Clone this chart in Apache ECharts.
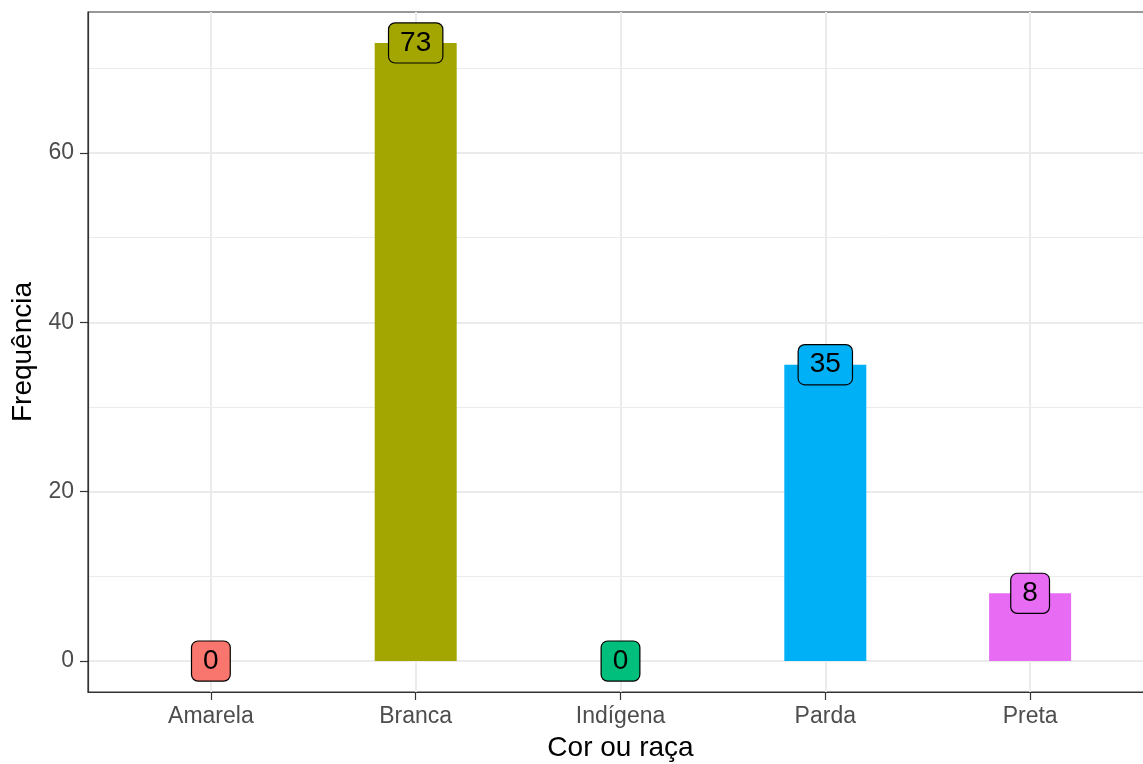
<!DOCTYPE html>
<html>
<head>
<meta charset="utf-8">
<script src="https://cdn.jsdelivr.net/npm/echarts@6/dist/echarts.min.js"></script>
<style>html,body{margin:0;padding:0;background:#fff;overflow:hidden}#c{width:1170px;height:764px}</style>
</head>
<body>
<div id="c"></div>
<script>
const categories = ['Amarela', 'Branca', 'Indígena', 'Parda', 'Preta'];
const values = [0, 73, 0, 35, 8];
const colors = ['#F8766D', '#A3A500', '#00BF7D', '#00B0F6', '#E76BF3'];
const yMajorTicks = [0, 20, 40, 60];
const yMinorTicks = [10, 30, 50, 70];

const xIdx = categories.map((_, i) => i);
const yMax = Math.max(...values);
const pad = yMax * 0.05;
const FONT = '"Liberation Sans", Arial, sans-serif';

const chart = echarts.init(document.getElementById('c'), null, {renderer: 'canvas'});
chart.setOption({
  animation: false,
  backgroundColor: '#ffffff',
  grid: {left: 88, top: 12, right: 17, bottom: 72, outerBoundsMode: 'none', show: true, borderColor: '#333333', borderWidth: 1.2, backgroundColor: 'transparent', containLabel: false},
  xAxis: [{
    type: 'value', min: -0.6, max: categories.length - 0.4,
    name: 'Cor ou raça', nameLocation: 'middle', nameGap: 42,
    nameTextStyle: {fontFamily: FONT, fontSize: 28, color: '#000'},
    axisLine: {show: true, onZero: false, lineStyle: {color: '#333333', width: 1.2}},
    axisTick: {show: true, length: 8, customValues: xIdx, lineStyle: {color: '#333333', width: 1.2}},
    axisLabel: {show: true, customValues: xIdx, margin: 13, fontFamily: FONT, fontSize: 23, color: '#4D4D4D',
      formatter: v => categories[Math.round(v)] ?? ''},
    splitLine: {show: true, lineStyle: {color: '#EBEBEB', width: 2}}
  }],
  yAxis: [{
    type: 'value', min: -pad, max: yMax + pad,
    name: 'Frequência', nameLocation: 'middle', nameGap: 48, nameRotate: 90,
    nameTextStyle: {fontFamily: FONT, fontSize: 28, color: '#000'},
    axisLine: {show: true, onZero: false, lineStyle: {color: '#333333', width: 1.2}},
    axisTick: {show: true, length: 8, customValues: yMajorTicks, lineStyle: {color: '#333333', width: 1.2}},
    axisLabel: {show: true, customValues: yMajorTicks, margin: 14, fontFamily: FONT, fontSize: 23, color: '#4D4D4D'},
    splitLine: {show: true, lineStyle: {color: '#EBEBEB', width: 2}}
  }, {
    type: 'value', min: -pad, max: yMax + pad, position: 'left',
    axisLine: {show: false}, axisLabel: {show: false, customValues: yMinorTicks},
    axisTick: {show: false, customValues: yMinorTicks},
    splitLine: {show: true, lineStyle: {color: '#EBEBEB', width: 1}}
  }],
  series: [{
    type: 'bar', xAxisIndex: 0, yAxisIndex: 0, barWidth: 82, z: 2,
    data: values.map((v, i) => ({value: [i, v], itemStyle: {color: colors[i]}}))
  }, {
    type: 'scatter', xAxisIndex: 0, yAxisIndex: 0, symbolSize: 1, z: 5,
    itemStyle: {color: 'rgba(0,0,0,0)', opacity: 1},
    data: values.map((v, i) => ({
      value: [i, v],
      label: {
        show: true, position: 'inside', formatter: String(v),
        fontFamily: FONT, fontSize: 28, color: '#000', lineHeight: 28,
        backgroundColor: colors[i], borderColor: '#000', borderWidth: 1.2, borderRadius: 6,
        padding: [6, 11, 5, 11]
      }
    }))
  }]
});
</script>
</body>
</html>
